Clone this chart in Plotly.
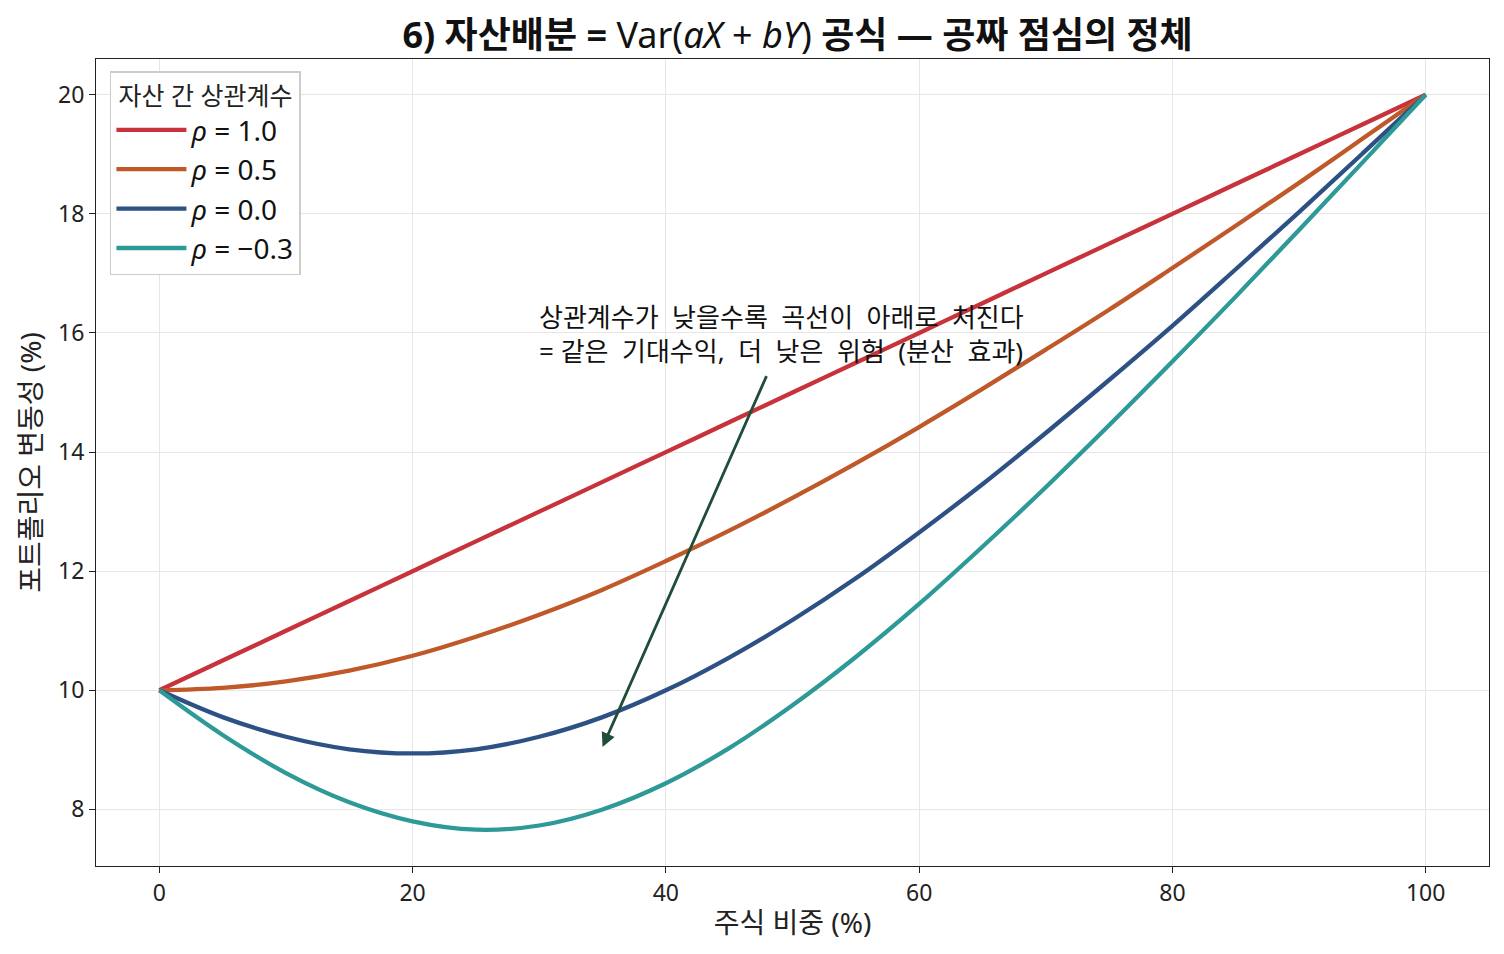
import plotly.graph_objects as go

# 주식 비중 (%)
weights = [0, 5, 10, 15, 20, 25, 30, 35, 40, 45, 50, 55, 60, 65, 70, 75, 80, 85, 90, 95, 100]

# 포트폴리오 변동성 (%) - 그림에서 읽은 값
vol_rho_1 = [10.0, 10.5, 11.0, 11.5, 12.0, 12.5, 13.0, 13.5, 14.0, 14.5, 15.0,
             15.5, 16.0, 16.5, 17.0, 17.5, 18.0, 18.5, 19.0, 19.5, 20.0]
vol_rho_05 = [10.0, 10.04, 10.15, 10.33, 10.58, 10.90, 11.27, 11.69, 12.17, 12.68, 13.23,
              13.81, 14.42, 15.06, 15.72, 16.39, 17.09, 17.80, 18.52, 19.26, 20.0]
vol_rho_0 = [10.0, 9.55, 9.22, 9.01, 8.94, 9.01, 9.22, 9.55, 10.0, 10.55, 11.18,
             11.88, 12.65, 13.46, 14.32, 15.21, 16.12, 17.07, 18.03, 19.01, 20.0]
vol_rho_m03 = [10.0, 9.25, 8.61, 8.12, 7.80, 7.66, 7.73, 8.00, 8.44, 9.03, 9.75,
               10.56, 11.45, 12.41, 13.41, 14.45, 15.52, 16.61, 17.73, 18.86, 20.0]

series = [
    ("<i>ρ</i> = 1.0", vol_rho_1, "#c8323a"),
    ("<i>ρ</i> = 0.5", vol_rho_05, "#c0592a"),
    ("<i>ρ</i> = 0.0", vol_rho_0, "#2d5184"),
    ("<i>ρ</i> = −0.3", vol_rho_m03, "#2e9a98"),
]

font = "Noto Sans, Noto Sans CJK KR, sans-serif"

fig = go.Figure()
for name, vals, color in series:
    fig.add_trace(go.Scatter(x=weights, y=vals, name=name, mode="lines",
                             line=dict(color=color, width=4.3, shape="spline")))

fig.add_annotation(x=35, y=9.05, ax=48, ay=15.3, xref="x", yref="y", axref="x", ayref="y",
                   showarrow=True, arrowhead=2, arrowsize=1, arrowwidth=2.8,
                   arrowcolor="#1f4d38", text="")
fig.add_annotation(x=29.8, y=15.36, xref="x", yref="y", xanchor="left", yanchor="bottom",
                   showarrow=False, align="left",
                   text="상관계수가  낮을수록  곡선이  아래로  처진다<br>= 같은  기대수익,  더  낮은  위험  (분산  효과)",
                   font=dict(size=26, color="#111111", family=font))

axis_common = dict(showline=True, linecolor="#222222", linewidth=1.2, mirror=True,
                   ticks="outside", ticklen=6, tickcolor="#222222",
                   showgrid=True, gridcolor="#e6e6e6", gridwidth=1, zeroline=False,
                   tickfont=dict(size=23, color="#222222", family=font))

fig.update_layout(
    width=1504, height=954,
    paper_bgcolor="white", plot_bgcolor="white",
    margin=dict(l=88, r=23, t=51, b=96),
    title=dict(text="<b>6) 자산배분 =</b> Var(<i>aX</i> + <i>bY</i>) <b>공식 — 공짜 점심의 정체</b>",
               x=0.525, xanchor="center", y=0.971, yanchor="middle",
               font=dict(size=36, color="#111111", family=font)),
    xaxis=dict(range=[-5, 105], tickvals=[0, 20, 40, 60, 80, 100],
               title=dict(text="주식 비중 (%)", font=dict(size=28, family=font, color="#222222"), standoff=6),
               **axis_common),
    yaxis=dict(range=[7.05, 20.6], tickvals=[8, 10, 12, 14, 16, 18, 20],
               title=dict(text="포트폴리오 변동성 (%)", font=dict(size=28, family=font, color="#222222"), standoff=8),
               **axis_common),
    legend=dict(x=0.01, y=0.985, xanchor="left", yanchor="top",
                bgcolor="rgba(255,255,255,0.9)", bordercolor="#cccccc", borderwidth=1.5,
                title=dict(text="자산 간 상관계수", side="top center",
                           font=dict(size=25, family=font, color="#222222")),
                font=dict(size=28, family=font, color="#111111"),
                itemwidth=70, tracegroupgap=10),
    showlegend=True,
)

fig.write_html("out.html")
